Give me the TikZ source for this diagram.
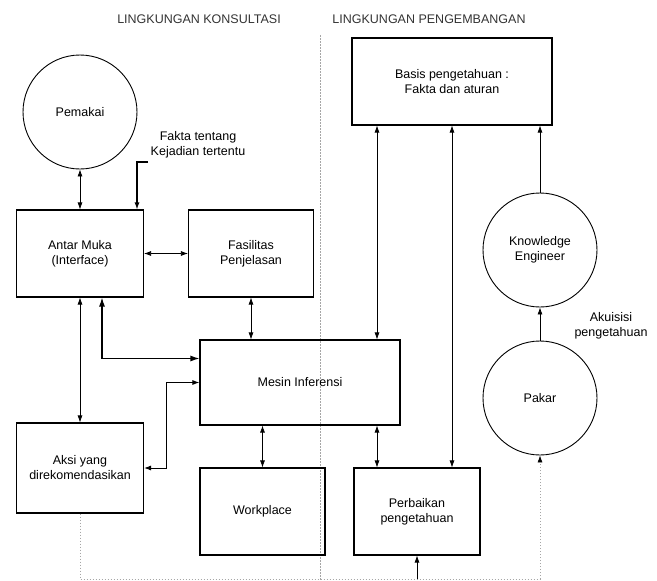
\documentclass[tikz,border=0pt]{standalone}
\usepackage{fontspec}
\setmainfont{Liberation Sans}
\usetikzlibrary{arrows.meta,positioning}

\begin{document}
\begin{tikzpicture}[x=1pt, y=-1pt,
    font=\fontsize{12.5}{15}\selectfont,
    kotak/.style={draw, line width=1.1pt, align=center, inner sep=0pt},
    bulat/.style={draw, circle, line width=0.9pt, minimum size=114pt, inner sep=0pt, align=center},
    panah/.style={line width=0.7pt, {Latex[length=7pt,width=5pt]}-{Latex[length=7pt,width=5pt]}},
    satu/.style={line width=0.7pt, -{Latex[length=7pt,width=5pt]}},
    pisah/.style={gray!70, line width=0.6pt, dash pattern=on 1.5pt off 1.5pt}]
  \useasboundingbox (0,0) rectangle (657,581);
  % Judul lingkungan
  \node[text=black!80] (konsultasi) at (199,19) {LINGKUNGAN KONSULTASI};
  \node[text=black!80] (pengembangan) at (429,19) {LINGKUNGAN PENGEMBANGAN};
  \coordinate (atas) at (320,35);
  \coordinate (bawah) at (80,579);
  \draw[pisah] (atas) -- (atas |- 0,581);
  % Lingkungan konsultasi
  \node[bulat] (pemakai) at (80,112) {Pemakai};
  \node[kotak, minimum width=127pt, minimum height=87pt] (antar) at (80,253.5) {Antar Muka\\(Interface)};
  \node[kotak, minimum width=125pt, minimum height=87pt] (fasilitas) at (251,253.5) {Fasilitas\\Penjelasan};
  \node[kotak, minimum width=200pt, minimum height=85pt] (mesin) at (300,382.5) {Mesin Inferensi};
  \node[kotak, minimum width=127pt, minimum height=90pt] (aksi) at (80,468) {Aksi yang\\direkomendasikan};
  \node[kotak, minimum width=125pt, minimum height=87pt] (workplace) at (262.5,511.5) {Workplace};
  \node[align=center] (ketfakta) at (198,145) {Fakta tentang\\Kejadian tertentu};
  \coordinate (fakta) at (148,162);
  % Lingkungan pengembangan
  \node[kotak, minimum width=200pt, minimum height=87pt] (basis) at (452,81.5) {Basis pengetahuan :\\Fakta dan aturan};
  \node[kotak, minimum width=126pt, minimum height=87pt] (perbaikan) at (417,511.5) {Perbaikan\\pengetahuan};
  \node[bulat] (ke) at (540,250) {Knowledge\\Engineer};
  \node[bulat] (pakar) at (540,398) {Pakar};
  \node[align=center] (akuisisi) at (611,326) {Akuisisi\\pengetahuan};
  % Panah
  \draw[panah] (pemakai) -- (antar);
  \draw[satu, line width=1.2pt] (fakta) -| ([xshift=57pt]antar.north);
  \draw[panah] (antar) -- (fasilitas);
  \draw[panah] (fasilitas.south) -- (fasilitas.south |- mesin.north);
  \draw[line width=1.2pt, {Latex[length=9pt,width=6pt]}-{Latex[length=9pt,width=6pt]}] ([xshift=22pt]antar.south) |- ([yshift=24pt]mesin.west);
  \draw[panah] (antar) -- (aksi);
  \draw[panah, line width=0.9pt] (aksi.east) -- ++(22,0) |- (mesin.west);
  \draw[panah] (workplace.north) -- (workplace.north |- mesin.south);
  \draw[panah] ([xshift=-40pt]perbaikan.north) -- ([xshift=-40pt]perbaikan.north |- mesin.south);
  \draw[panah] ([xshift=-75pt]basis.south) -- ([xshift=-75pt]basis.south |- mesin.north);
  \draw[panah] (basis.south) -- (basis.south |- perbaikan.north);
  \draw[satu] (ke.north) -- (ke.north |- basis.south);
  \draw[satu] (pakar) -- (ke);
  % Umpan balik
  \draw[pisah] (aksi.south) |- (pakar.south |- bawah);
  \draw[pisah, -{Latex[length=7pt,width=5pt,color=black]}] (pakar.south |- bawah) -- (pakar.south);
  \draw[satu] (perbaikan.south |- bawah) -- (perbaikan.south);
\end{tikzpicture}
\end{document}
